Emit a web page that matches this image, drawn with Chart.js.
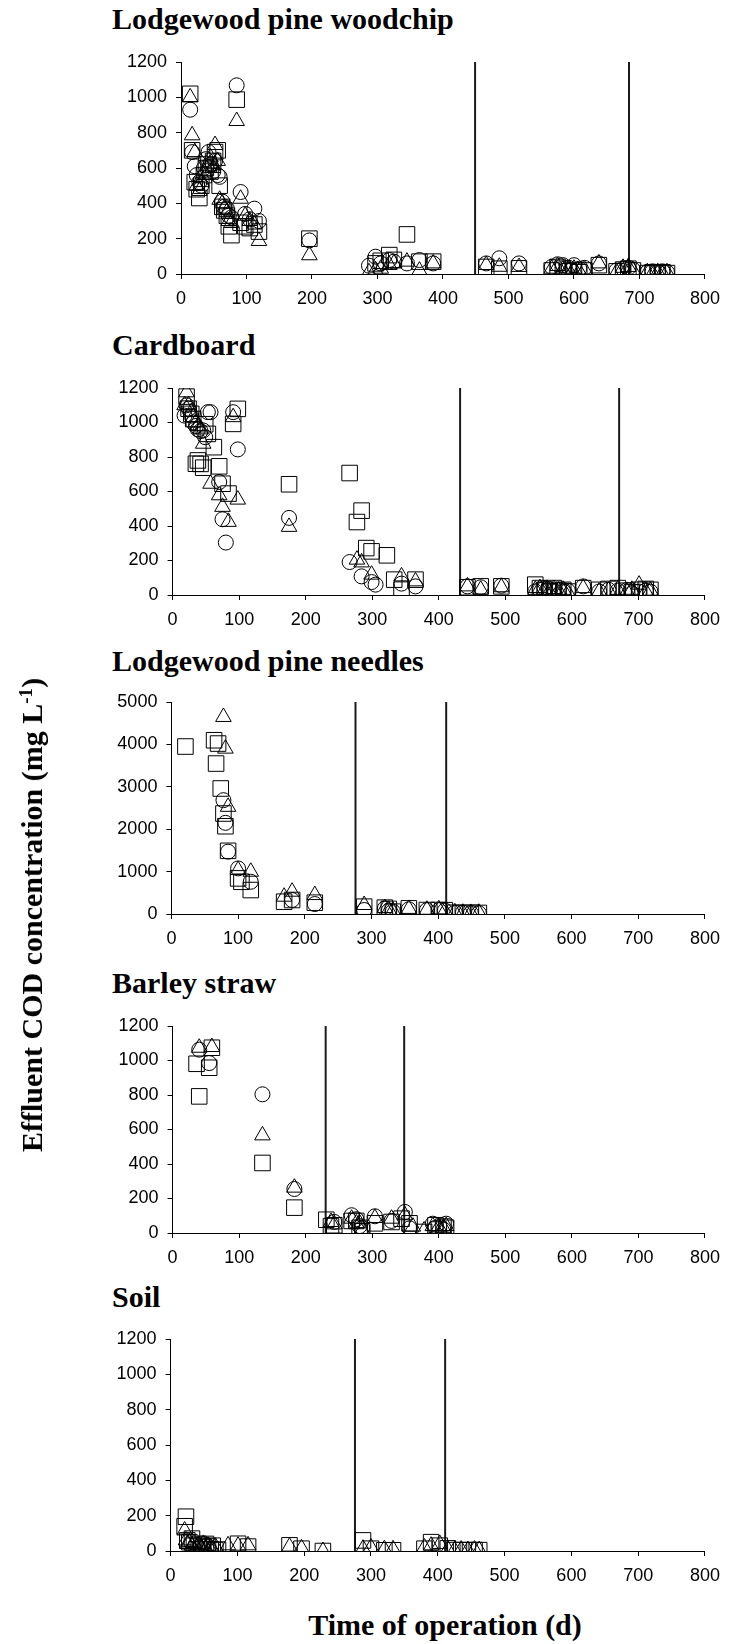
<!DOCTYPE html>
<html>
<head>
<meta charset="utf-8">
<script src="https://cdn.jsdelivr.net/npm/chart.js@4.4.1/dist/chart.umd.min.js"></script>
<style>
  html, body { margin: 0; padding: 0; background: #fff; }
  body { position: relative; width: 729px; height: 1644px; overflow: hidden; }
  .panel-title, .axis-title {
    position: absolute; white-space: nowrap; color: #000;
    font-family: "Liberation Serif", "Times New Roman", serif;
    font-weight: bold; font-size: 30px; line-height: 30px;
  }
  .panel-title { left: 112px; }
  .axis-title sup { font-size: 19px; line-height: 0; vertical-align: 10px; }
  canvas { position: absolute; left: 0; }
</style>
</head>
<body>
<script>
// ---- Lodgewood pine woodchip ----
const woodchipDays = [14, 17, 21, 24, 28, 31, 35, 38, 42, 45, 49, 52, 56, 59, 63, 66, 70, 73, 77, 85,
  91, 98, 105, 112, 119, 196, 287, 297, 305, 318, 325, 345, 364, 385, 466, 486, 516, 566, 575, 583,
  592, 600, 608, 616, 638, 665, 675, 683, 690, 712, 720, 728, 735, 742];
const woodchipCircle = [930, 690, 610, 560, 520, 500, 600, 650, 690, 620, 580, 640, 560, 550, 410, 380, 370, 330, 320, 1068,
  464, 340, 310, 370, 300, 190, 47, 98, 60, 79, 70, 60, 79, 60, 60, 89, 60, 40, 55, 50,
  35, 50, 30, 35, 60, 20, 30, 35, 25, 10, 15, 10, 15, 10];
const woodchipSquare = [1020, 700, 520, 480, 430, 500, 560, 600, 620, 580, 640, 690, 700, 500, 380, 360, 330, 270, 220, 987,
  290, 270, 260, 280, 240, 200, null, 60, 75, 107, 80, 224, 70, 70, 40, 30, 32, 20, 40, 30,
  15, 20, 10, 20, 50, 15, 25, 30, 20, 5, 10, 5, 10, 5];
const woodchipTriangle = [1000, 785, 690, 500, 470, 520, 580, 560, 610, 660, 600, 730, 640, 420, 400, 370, 350, 300, 290, 866,
  426, 330, 300, 280, 187, 106, 10, 22, 30, 51, 60, 70, 19, 60, 51, 41, 40, 30, 45, 25,
  20, 30, 15, 25, 60, 10, 35, 40, 20, 10, 5, 10, 5, 10];
const woodchipPhaseDays = [449, 684];

// ---- Cardboard ----
const cardboardDays = [18, 21, 24, 28, 31, 35, 38, 42, 46, 49, 53, 57, 62, 66, 70, 75, 80, 84, 91, 98,
  175, 266, 277, 284, 291, 299, 305, 312, 322, 333, 344, 365, 443, 463, 494, 545, 552, 559, 566, 573,
  580, 587, 594, 617, 641, 655, 669, 683, 690, 701, 711, 718];
const cardboardCircle = [1040, 1100, 1080, 1040, 1000, 980, 960, 950, 954, 915, 1060, 1060, null, null, 655, 439, 304, null, 1060, 844,
  447, 191, null, 108, null, 75, 60, null, null, null, 66, 50, 50, 45, 54, 21, 30, 40, 35, 25,
  30, 20, 25, 50, 20, 30, 25, 30, 10, 20, 25, 20];
const cardboardSquare = [null, 1150, 1080, 1050, 1020, 761, 780, 760, 738, 990, 934, null, 857, null, 746, 645, null, 588, 992, 1079,
  642, 707, 423, 489, 272, 253, null, null, 230, 89, 31, 89, 45, 50, 50, 60, 40, 30, 20, 40,
  25, 30, 20, 40, 30, 35, 40, 25, 15, 30, 35, 30];
const cardboardTriangle = [1100, 1175, 1100, 1060, 1030, 1000, 980, 960, 877, null, null, 645, null, null, 578, 511, null, 424, 1031, 553,
  395, null, 205, 189, null, 118, null, null, null, null, 108, 79, 50, 31, 45, 30, 40, 30, 20, 35,
  25, 30, 15, 40, 20, 25, 30, 20, 30, 60, 20, 25];
const cardboardPhaseDays = [432, 671];

// ---- Lodgewood pine needles ----
const needlesDays = [21, 64, 67, 70, 74, 78, 81, 85, 100, 105, 119, 169, 181, 215, 289, 320, 326, 332, 356, 383,
  401, 410, 425, 437, 449, 461];
const needlesCircle = [null, null, null, null, null, 2685, 2150, 1470, 1075, null, 760, null, 330, 235, 94, 130, 80, 60, 110, 90,
  90, 80, 30, 30, 20, 20];
const needlesSquare = [3950, 4098, 3548, 4020, 2960, 2370, 2070, 1490, 840, 760, 565, 290, 330, 267, 173, 150, 120, 55, 133, 94,
  94, 90, 30, 25, 30, 25];
const needlesTriangle = [null, null, null, null, null, 4647, 3900, 2528, 1036, null, 997, 408, 526, 447, 212, 140, 100, 80, 120, 100,
  110, 70, 40, 30, 25, 30];
const needlesPhaseDays = [276, 412];

// ---- Barley straw ----
const barleyDays = [36, 40, 55, 59, 135, 183, 231, 238, 243, 269, 276, 281, 285, 304, 329, 344, 349, 356, 361, 378,
  391, 395, 400, 407, 411];
const barleyCircle = [null, 1063, 985, null, 804, 255, null, null, 64, 103, 80, 40, 30, 97, 70, null, 122, 27, null, null,
  54, 30, null, 20, 54];
const barleySquare = [981, 792, 958, 1074, 406, 147, 77, 40, 45, 70, 70, 30, 10, 56, 64, 83, null, 56, null, 6,
  null, 45, 20, 37, 30];
const barleyTriangle = [null, 1074, null, 1078, 566, 263, null, 64, 50, 83, 56, 56, 20, 87, 83, null, 103, null, 37, 15,
  40, null, 37, 30, 40];
const barleyPhaseDays = [230, 348];

// ---- Soil ----
const soilDays = [21, 23, 25, 28, 32, 35, 39, 42, 46, 49, 53, 56, 60, 63, 67, 71, 86, 101, 116, 178,
  196, 228, 288, 300, 320, 333, 380, 390, 403, 415, 425, 435, 445, 455, 462];
const soilCircle = [];
const soilSquare = [140, 194, 60, 50, 70, 30, 10, 40, 30, 20, 40, 25, 10, 30, 5, 8, null, 41, 25, 32,
  13, 0, 60, 13, 4, 4, 13, 50, 30, 15, 5, 5, 5, 5, 5];
const soilTriangle = [116, 60, 40, 50, 30, 45, 20, 35, 20, 40, 15, 30, 20, 10, 25, null, 32, 30, 32, 25,
  15, 0, 13, 20, 10, 10, 20, 30, 40, 10, 5, 8, 5, 8, 5];
const soilPhaseDays = [276, 411];

// ---- axis settings ----
const timeTicks = { min: 0, max: 800, step: 100 };
const codTicks = { min: 0, max: 1200, step: 200 };
const needlesCodTicks = { min: 0, max: 5000, step: 500 };

const panelTitles = ['Lodgewood pine woodchip', 'Cardboard', 'Lodgewood pine needles', 'Barley straw', 'Soil'];
const xAxisTitle = 'Time of operation (d)';

// page placement of each plot area (pixels)
const PAGE_W = 729;
const PAD_TOP = 20, X_AXIS_H = 45;
const frames = [
  { left: 181.0, right: 712.9, top: 62,   bottom: 274,  titleTop: 4 },
  { left: 172.6, right: 707.7, top: 388,  bottom: 595,  titleTop: 330 },
  { left: 171.4, right: 709.3, top: 702,  bottom: 914,  titleTop: 646 },
  { left: 172.6, right: 706.1, top: 1026, bottom: 1233, titleTop: 968 },
  { left: 170.6, right: 706.1, top: 1339, bottom: 1551, titleTop: 1282 }
];

const panels = [
  { days: woodchipDays, circle: woodchipCircle, square: woodchipSquare, triangle: woodchipTriangle, phases: woodchipPhaseDays, y: codTicks },
  { days: cardboardDays, circle: cardboardCircle, square: cardboardSquare, triangle: cardboardTriangle, phases: cardboardPhaseDays, y: codTicks },
  { days: needlesDays, circle: needlesCircle, square: needlesSquare, triangle: needlesTriangle, phases: needlesPhaseDays, y: needlesCodTicks },
  { days: barleyDays, circle: barleyCircle, square: barleySquare, triangle: barleyTriangle, phases: barleyPhaseDays, y: codTicks },
  { days: soilDays, circle: soilCircle, square: soilSquare, triangle: soilTriangle, phases: soilPhaseDays, y: codTicks }
];

const markerStyles = {
  circle:   { pointStyle: 'circle',   pointRadius: 7.5 },
  square:   { pointStyle: 'rect',     pointRadius: 11 },
  triangle: { pointStyle: 'triangle', pointRadius: 9 }
};

Chart.defaults.font.family = "'Liberation Sans', Arial, sans-serif";
Chart.defaults.font.size = 18;
Chart.defaults.color = '#000';

function toPoints(days, values) {
  return days.map((d, i) => ({ x: d, y: values[i] }))
             .filter(p => p.y !== null && p.y !== undefined);
}

function axisStyle() {
  return {
    grid: { display: true, drawOnChartArea: false, drawTicks: true, tickLength: 5, color: '#000', lineWidth: 1 },
    border: { display: true, color: '#000', width: 1 }
  };
}

const plainNumber = v => String(v);

panels.forEach((p, idx) => {
  const f = frames[idx];

  const title = document.createElement('div');
  title.className = 'panel-title';
  title.style.top = f.titleTop + 'px';
  title.textContent = panelTitles[idx];
  document.body.appendChild(title);

  const canvas = document.createElement('canvas');
  const h = (f.bottom - f.top) + PAD_TOP + X_AXIS_H;
  canvas.width = PAGE_W;
  canvas.height = h;
  canvas.style.top = (f.top - PAD_TOP) + 'px';
  canvas.style.width = PAGE_W + 'px';
  canvas.style.height = h + 'px';
  document.body.appendChild(canvas);

  const datasets = [];
  ['circle', 'square', 'triangle'].forEach(kind => {
    datasets.push(Object.assign({
      label: kind,
      data: toPoints(p.days, p[kind]),
      borderColor: '#000',
      backgroundColor: 'rgba(0,0,0,0)',
      borderWidth: 1,
      showLine: false
    }, markerStyles[kind]));
  });
  // vertical markers at the start of each operating phase
  p.phases.forEach(d => {
    datasets.push({
      type: 'line',
      label: 'phase',
      data: [{ x: d, y: p.y.min }, { x: d, y: p.y.max }],
      borderColor: '#1a1a1a',
      borderWidth: 2,
      pointRadius: 0,
      clip: false
    });
  });

  const xs = axisStyle();
  const ys = axisStyle();
  new Chart(canvas, {
    type: 'scatter',
    data: { datasets },
    options: {
      responsive: false,
      animation: false,
      devicePixelRatio: 1,
      layout: { padding: { top: PAD_TOP, right: PAGE_W - f.right, left: 0, bottom: 0 } },
      plugins: { legend: { display: false }, tooltip: { enabled: false } },
      scales: {
        x: Object.assign(xs, {
          type: 'linear', position: 'bottom',
          min: timeTicks.min, max: timeTicks.max,
          ticks: { stepSize: timeTicks.step, padding: 9, maxRotation: 0, color: '#000', callback: plainNumber },
          afterFit: s => { s.height = X_AXIS_H; }
        }),
        y: Object.assign(ys, {
          type: 'linear', position: 'left',
          min: p.y.min, max: p.y.max,
          ticks: { stepSize: p.y.step, padding: 9, color: '#000', callback: plainNumber },
          afterFit: s => { s.width = f.left; }
        })
      }
    }
  });
});

// shared axis titles
const xt = document.createElement('div');
xt.className = 'axis-title';
xt.style.left = '445px';
xt.style.top = '1610px';
xt.style.transform = 'translateX(-50%)';
xt.textContent = xAxisTitle;
document.body.appendChild(xt);

const yt = document.createElement('div');
yt.className = 'axis-title';
yt.style.left = '32px';
yt.style.top = '915px';
yt.style.transform = 'translate(-50%, -50%) rotate(-90deg)';
yt.innerHTML = 'Effluent COD concentration (mg L<sup>-1</sup>)';
document.body.appendChild(yt);
</script>
</body>
</html>
